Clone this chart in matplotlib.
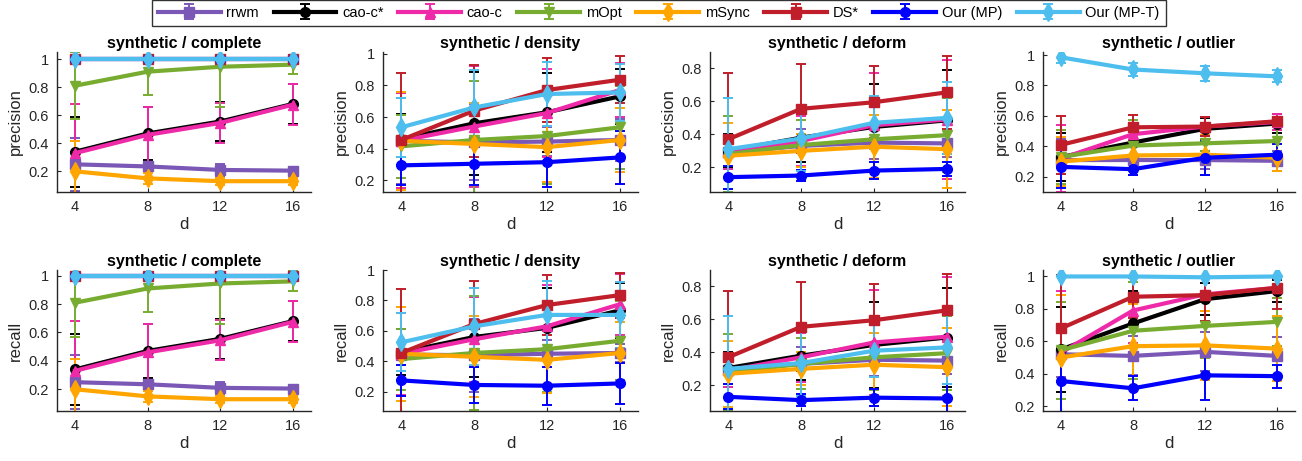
import matplotlib
matplotlib.use("Agg")
import matplotlib.pyplot as plt
from matplotlib.ticker import FuncFormatter

plt.rcParams['font.family'] = ['Liberation Sans', 'DejaVu Sans']

d_values = [4, 8, 12, 16]
methods = ['rrwm', 'cao-c*', 'cao-c', 'mOpt', 'mSync', 'DS*', 'Our (MP)', 'Our (MP-T)']
colors = ['#7B58B6', '#000000', '#EE2AA8', '#77AC30', '#FFA500', '#BF1E2A', '#0000FF', '#4DBEEE']
markers = ['s', 'o', '^', 'v', 'd', 's', 'o', 'd']

# ---- precision / complete ----
prec_complete_mean = [
    [0.25, 0.235, 0.21, 0.205], [0.34, 0.47, 0.555, 0.68], [0.33, 0.46, 0.545, 0.675],
    [0.81, 0.91, 0.945, 0.96], [0.20, 0.15, 0.13, 0.13], [1, 1, 1, 1], [1, 1, 1, 1], [1, 1, 1, 1]]
prec_complete_err = [
    [0.19, 0.03, 0.04, 0.02], [0.25, 0.19, 0.14, 0.14], [0.35, 0.20, 0.14, 0.145],
    [0.24, 0.165, 0.285, 0.07], [0.215, 0.04, 0.025, 0.025], [0, 0, 0, 0], [0, 0, 0, 0], [0, 0, 0, 0]]

# ---- precision / density ----
prec_density_mean = [
    [0.45, 0.44, 0.445, 0.455], [0.46, 0.56, 0.63, 0.73], [0.45, 0.54, 0.625, 0.77],
    [0.415, 0.455, 0.48, 0.535], [0.45, 0.43, 0.41, 0.455], [0.455, 0.64, 0.77, 0.835],
    [0.295, 0.305, 0.315, 0.345], [0.535, 0.66, 0.745, 0.755]]
prec_density_err = [
    [0.27, 0.24, 0.09, 0.135], [0.16, 0.325, 0.25, 0.175], [0.30, 0.38, 0.275, 0.17],
    [0.20, 0.375, 0.30, 0.26], [0.31, 0.26, 0.22, 0.20], [0.42, 0.29, 0.20, 0.148],
    [0.125, 0.135, 0.155, 0.165], [0.185, 0.235, 0.20, 0.18]]

# ---- precision / deform ----
prec_deform_mean = [
    [0.29, 0.33, 0.35, 0.345], [0.30, 0.38, 0.445, 0.485], [0.29, 0.36, 0.455, 0.49],
    [0.28, 0.335, 0.37, 0.395], [0.27, 0.30, 0.325, 0.31], [0.37, 0.555, 0.595, 0.655],
    [0.14, 0.15, 0.18, 0.19], [0.31, 0.375, 0.47, 0.50]]
prec_deform_err = [
    [0.10, 0.10, 0.10, 0.08], [0.10, 0.145, 0.26, 0.305], [0.10, 0.15, 0.32, 0.36],
    [0.23, 0.155, 0.20, 0.225], [0.20, 0.10, 0.19, 0.235], [0.405, 0.27, 0.22, 0.22],
    [0.07, 0.035, 0.05, 0.045], [0.31, 0.20, 0.16, 0.22]]

# ---- precision / outlier ----
prec_outlier_mean = [
    [0.31, 0.31, 0.31, 0.305], [0.33, 0.425, 0.515, 0.55], [0.32, 0.48, 0.53, 0.56],
    [0.33, 0.405, 0.42, 0.435], [0.30, 0.34, 0.345, 0.325], [0.41, 0.525, 0.53, 0.565],
    [0.265, 0.25, 0.325, 0.345], [0.985, 0.905, 0.88, 0.86]]
prec_outlier_err = [
    [0.14, 0.10, 0.06, 0.065], [0.16, 0.08, 0.07, 0.06], [0.22, 0.07, 0.06, 0.05],
    [0.18, 0.17, 0.05, 0.09], [0.16, 0.13, 0.13, 0.09], [0.19, 0.08, 0.065, 0.03],
    [0.14, 0.04, 0.11, 0.07], [0.04, 0.04, 0.05, 0.04]]

# ---- recall / complete ----
rec_complete_mean = [
    [0.25, 0.235, 0.21, 0.205], [0.34, 0.47, 0.555, 0.68], [0.33, 0.46, 0.545, 0.675],
    [0.81, 0.91, 0.945, 0.96], [0.20, 0.15, 0.13, 0.13], [1, 1, 1, 1], [1, 1, 1, 1], [1, 1, 1, 1]]
rec_complete_err = [
    [0.19, 0.03, 0.04, 0.02], [0.25, 0.19, 0.14, 0.14], [0.35, 0.20, 0.14, 0.145],
    [0.24, 0.165, 0.285, 0.07], [0.215, 0.04, 0.025, 0.025], [0, 0, 0, 0], [0, 0, 0, 0], [0, 0, 0, 0]]

# ---- recall / density ----
rec_density_mean = [
    [0.445, 0.44, 0.45, 0.455], [0.46, 0.56, 0.62, 0.735], [0.45, 0.545, 0.63, 0.775],
    [0.415, 0.455, 0.48, 0.535], [0.45, 0.43, 0.41, 0.455], [0.455, 0.645, 0.77, 0.835],
    [0.275, 0.245, 0.24, 0.255], [0.525, 0.63, 0.705, 0.705]]
rec_density_err = [
    [0.27, 0.24, 0.09, 0.06], [0.15, 0.26, 0.26, 0.18], [0.27, 0.28, 0.27, 0.20],
    [0.20, 0.375, 0.28, 0.26], [0.31, 0.265, 0.22, 0.205], [0.42, 0.28, 0.20, 0.147],
    [0.10, 0.12, 0.125, 0.137], [0.19, 0.255, 0.22, 0.215]]

# ---- recall / deform ----
rec_deform_mean = [
    [0.29, 0.33, 0.355, 0.35], [0.305, 0.38, 0.445, 0.49], [0.29, 0.37, 0.46, 0.495],
    [0.28, 0.33, 0.37, 0.395], [0.27, 0.30, 0.325, 0.31], [0.37, 0.555, 0.595, 0.655],
    [0.13, 0.11, 0.125, 0.12], [0.30, 0.335, 0.41, 0.43]]
rec_deform_err = [
    [0.10, 0.10, 0.10, 0.08], [0.10, 0.145, 0.26, 0.30], [0.10, 0.15, 0.32, 0.36],
    [0.23, 0.155, 0.20, 0.225], [0.20, 0.10, 0.19, 0.235], [0.405, 0.27, 0.22, 0.22],
    [0.075, 0.035, 0.05, 0.09], [0.32, 0.20, 0.16, 0.22]]

# ---- recall / outlier ----
rec_outlier_mean = [
    [0.52, 0.51, 0.535, 0.51], [0.55, 0.71, 0.86, 0.91], [0.53, 0.79, 0.89, 0.93],
    [0.545, 0.665, 0.695, 0.72], [0.50, 0.57, 0.575, 0.555], [0.68, 0.875, 0.885, 0.93],
    [0.355, 0.31, 0.39, 0.385], [1.0, 1.0, 0.995, 1.0]]
rec_outlier_err = [
    [0.14, 0.12, 0.12, 0.115], [0.26, 0.20, 0.10, 0.07], [0.38, 0.20, 0.10, 0.06],
    [0.30, 0.30, 0.20, 0.15], [0.385, 0.26, 0.215, 0.20], [0.33, 0.13, 0.16, 0.13],
    [0.20, 0.075, 0.15, 0.07], [0, 0, 0.005, 0]]

panel_titles = ['synthetic / complete', 'synthetic / density', 'synthetic / deform', 'synthetic / outlier']
row_labels = ['precision', 'recall']

panels = [
    [(prec_complete_mean, prec_complete_err, (0.053, 1.05), [0.2, 0.4, 0.6, 0.8, 1.0]),
     (prec_density_mean, prec_density_err, (0.127, 1.01), [0.2, 0.4, 0.6, 0.8, 1.0]),
     (prec_deform_mean, prec_deform_err, (0.05, 0.9), [0.2, 0.4, 0.6, 0.8]),
     (prec_outlier_mean, prec_outlier_err, (0.10, 1.02), [0.2, 0.4, 0.6, 0.8, 1.0])],
    [(rec_complete_mean, rec_complete_err, (0.047, 1.04), [0.2, 0.4, 0.6, 0.8, 1.0]),
     (rec_density_mean, rec_density_err, (0.074, 1.0), [0.2, 0.4, 0.6, 0.8, 1.0]),
     (rec_deform_mean, rec_deform_err, (0.044, 0.9), [0.2, 0.4, 0.6, 0.8]),
     (rec_outlier_mean, rec_outlier_err, (0.17, 1.04), [0.2, 0.4, 0.6, 0.8, 1.0])],
]

W, H = 1302, 461
fig = plt.figure(figsize=(W / 100, H / 100), dpi=100)

col_left = [57, 383, 710, 1043]
col_right = [311, 638, 965, 1295]
row_top = [52, 270]
row_bot = [192, 411]
txt = '#262626'
fmt = FuncFormatter(lambda v, p: '%g' % round(v, 2))

handles = []
for r in range(2):
    for c in range(4):
        mean, err, ylim, yticks = panels[r][c]
        ax = fig.add_axes([col_left[c] / W, (H - row_bot[r]) / H,
                           (col_right[c] - col_left[c]) / W, (row_bot[r] - row_top[r]) / H])
        for i, m in enumerate(methods):
            h = ax.errorbar(d_values, mean[i], yerr=err[i], color=colors[i], marker=markers[i],
                            lw=3, ms=7 if markers[i] != 'd' else 9, elinewidth=1.4,
                            capsize=3.5, capthick=1.4, label=m)
            if r == 0 and c == 0:
                handles.append(h)
        ax.set_xlim(3, 17)
        ax.set_ylim(*ylim)
        ax.set_xticks(d_values)
        ax.set_yticks(yticks)
        ax.yaxis.set_major_formatter(fmt)
        for s in ['top', 'right']:
            ax.spines[s].set_visible(False)
        for s in ['left', 'bottom']:
            ax.spines[s].set_color(txt)
            ax.spines[s].set_linewidth(1.0)
        ax.tick_params(direction='in', length=3, labelsize=10.5, colors=txt, pad=6)
        ax.set_title(panel_titles[c], fontsize=11.5, fontweight='bold', pad=3)
        ax.set_xlabel('d', fontsize=12, color=txt, labelpad=2)
        ax.set_ylabel(row_labels[r], fontsize=12, color=txt, labelpad=4)

leg = fig.legend(handles, methods, loc='upper center', bbox_to_anchor=(0.506, 1.0), ncol=8,
                 frameon=True, fancybox=False, edgecolor='#000000', fontsize=10.5,
                 handlelength=4.3, handletextpad=0.4, columnspacing=1.0, borderpad=0.4,
                 borderaxespad=0.0)
leg.get_frame().set_linewidth(1.0)

fig.savefig('out.png', dpi=100)
